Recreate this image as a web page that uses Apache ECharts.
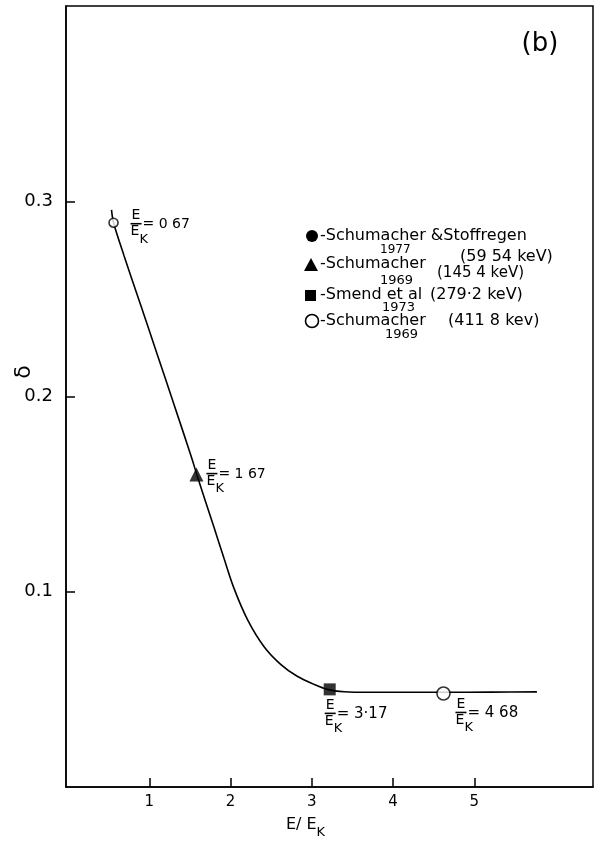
<!DOCTYPE html>
<html>
<head>
<meta charset="utf-8">
<script src="https://cdn.jsdelivr.net/npm/echarts@6/dist/echarts.min.js"></script>
<style>
  html, body { margin: 0; background: #fff; }
  #chart { width: 595px; height: 844px; }
</style>
</head>
<body>
<div id="chart"></div>
<script>
// curve
const curveX = [0.535, 0.56, 0.69, 0.895, 1.10, 1.305, 1.51, 1.60, 1.796, 1.92, 2.04, 2.21, 2.41, 2.62, 2.82, 3.03, 3.19, 3.40, 3.70, 4.00, 4.62, 5.20, 5.77]
const curveY = [0.2956, 0.289, 0.272, 0.2467, 0.2213, 0.1958, 0.170, 0.158, 0.133, 0.117, 0.102, 0.0856, 0.072, 0.0627, 0.0567, 0.0525, 0.0500, 0.0488, 0.0485, 0.0485, 0.0485, 0.0486, 0.0487]

// measured points
const triangleX = [1.58]
const triangleY = [0.160]
const squareX = [3.22]
const squareY = [0.050]
const openX = [0.56, 4.62]
const openY = [0.289, 0.0479]

// E/E_K values written next to the points
const ratioX = [0.56, 1.58, 3.22, 4.62]
const ratioY = [0.289, 0.160, 0.050, 0.0479]
const ratioText = ['0 67', '1 67', '3·17', '4 68']

const xTicks = [1, 2, 3, 4, 5]
const yTicks = [0.1, 0.2, 0.3]

const legendNames = ['-Schumacher &Stoffregen', '-Schumacher', '-Smend et al', '-Schumacher']
const legendYears = ['1977', '1969', '1973', '1969']
const legendEnergies = ['(59 54 keV)', '(145 4 keV)', '(279·2 keV)', '(411 8 kev)']

const F = 'DejaVu Sans'
const chart = echarts.init(document.getElementById('chart'))

const zip = (a, b) => a.map((v, i) => [v, b[i]])

chart.setOption({
  animation: false,
  backgroundColor: '#fff',
  grid: { left: 66, right: 2, top: 6, bottom: 51, show: true, borderColor: '#000', borderWidth: 1.5 },
  xAxis: {
    type: 'value', min: -0.025, max: 6.46,
    axisLine: { onZero: false, lineStyle: { color: '#000', width: 1.5 } },
    axisTick: { inside: true, length: 9, customValues: xTicks, lineStyle: { color: '#000', width: 1.5 } },
    axisLabel: { customValues: xTicks, color: '#000', fontSize: 15, fontFamily: F, margin: 8 },
    splitLine: { show: false },
    name: '{n|E/ E}{s|K}',
    nameLocation: 'middle', nameGap: 30,
    nameTextStyle: {
      padding: [0, 48, 0, 0],
      rich: {
        n: { fontSize: 16, fontFamily: F, color: '#000', lineHeight: 22, verticalAlign: 'top' },
        s: { fontSize: 13, fontFamily: F, color: '#000', lineHeight: 22, verticalAlign: 'bottom', padding: [6, 0, 0, 0] }
      }
    }
  },
  yAxis: {
    type: 'value', min: 0, max: 0.4,
    axisLine: { onZero: false, lineStyle: { color: '#000', width: 1.5 } },
    axisTick: { inside: true, length: 9, customValues: yTicks, lineStyle: { color: '#000', width: 1.5 } },
    axisLabel: { customValues: yTicks, color: '#000', fontSize: 18, fontFamily: F, margin: 13, formatter: v => v.toFixed(1) },
    splitLine: { show: false }
  },
  series: [
    {
      type: 'line', data: zip(curveX, curveY), smooth: 0.3,
      showSymbol: false, lineStyle: { color: '#000', width: 1.6 }, z: 2
    },
    {
      type: 'scatter', data: zip(triangleX, triangleY), symbol: 'triangle', symbolSize: 14,
      itemStyle: { color: '#000' }, z: 3
    },
    {
      type: 'scatter', data: zip(squareX, squareY), symbol: 'rect', symbolSize: 12,
      itemStyle: { color: '#000' }, z: 3
    },
    {
      type: 'scatter', data: zip(openX, openY), symbol: 'circle',
      symbolSize: (v, p) => p.dataIndex === 0 ? 9 : 13,
      itemStyle: { color: '#fff', borderColor: '#000', borderWidth: 1.6 }, z: 3
    }
  ]
})

// E/E_K = value annotations, placed from each point's pixel position
const notePlace = [[17, 1], [10, -1], [-5, 24], [12, 19]]
const noteSize = [14, 14, 15, 15]
function fraction(x, y, value, size) {
  return {
    type: 'group', x: x, y: y, children: [
      { type: 'text', style: { text: 'E', x: 5.5, y: -1, align: 'center', verticalAlign: 'bottom', fontSize: 14, fontFamily: F, fill: '#000' } },
      { type: 'line', shape: { x1: 0, y1: 0, x2: 11, y2: 0 }, style: { stroke: '#000', lineWidth: 1.6 } },
      { type: 'text', style: { text: 'E', x: 0, y: 1, align: 'left', verticalAlign: 'top', fontSize: 14, fontFamily: F, fill: '#000' } },
      { type: 'text', style: { text: 'K', x: 9, y: 9, align: 'left', verticalAlign: 'top', fontSize: 13, fontFamily: F, fill: '#000' } },
      { type: 'text', style: { text: '= ' + value, x: 12, y: 1, align: 'left', verticalAlign: 'middle', fontSize: size, fontFamily: F, fill: '#000' } }
    ]
  }
}
const notes = ratioX.map((x, i) => {
  const p = chart.convertToPixel({ gridIndex: 0 }, [x, ratioY[i]])
  return fraction(p[0] + notePlace[i][0], p[1] + notePlace[i][1], ratioText[i], noteSize[i])
})

// legend block
const T = (text, x, y, size) => ({ type: 'text', style: { text, x, y, fontSize: size, fontFamily: F, fill: '#000', verticalAlign: 'middle' } })
const legend = [
  { type: 'circle', shape: { cx: 312, cy: 236, r: 6 }, style: { fill: '#000' } },
  T(legendNames[0], 320, 236, 16), T(legendYears[0], 380, 250, 12), T(legendEnergies[0], 460, 257, 16),
  { type: 'polygon', shape: { points: [[311, 258], [318, 271], [304, 271]] }, style: { fill: '#000' } },
  T(legendNames[1], 320, 264, 16), T(legendEnergies[1], 437, 273, 15), T(legendYears[1], 380, 281, 13),
  { type: 'rect', shape: { x: 305, y: 290, width: 11, height: 11 }, style: { fill: '#000' } },
  T(legendNames[2], 320, 295, 16), T(legendEnergies[2], 430, 295, 16), T(legendYears[2], 382, 308, 13),
  { type: 'circle', shape: { cx: 312, cy: 321, r: 6.5 }, style: { fill: '#fff', stroke: '#000', lineWidth: 1.6 } },
  T(legendNames[3], 320, 321, 16), T(legendEnergies[3], 448, 321, 16), T(legendYears[3], 385, 335, 13)
]

chart.setOption({
  graphic: [
    { type: 'text', style: { text: '(b)', x: 540, y: 44, align: 'center', verticalAlign: 'middle', fontSize: 26, fontFamily: F, fill: '#000' } },
    { type: 'text', rotation: Math.PI / 2, x: 24, y: 372, style: { text: 'δ', align: 'center', verticalAlign: 'middle', fontSize: 22, fontFamily: F, fill: '#000' } },
    ...legend,
    ...notes
  ]
})
</script>
</body>
</html>
